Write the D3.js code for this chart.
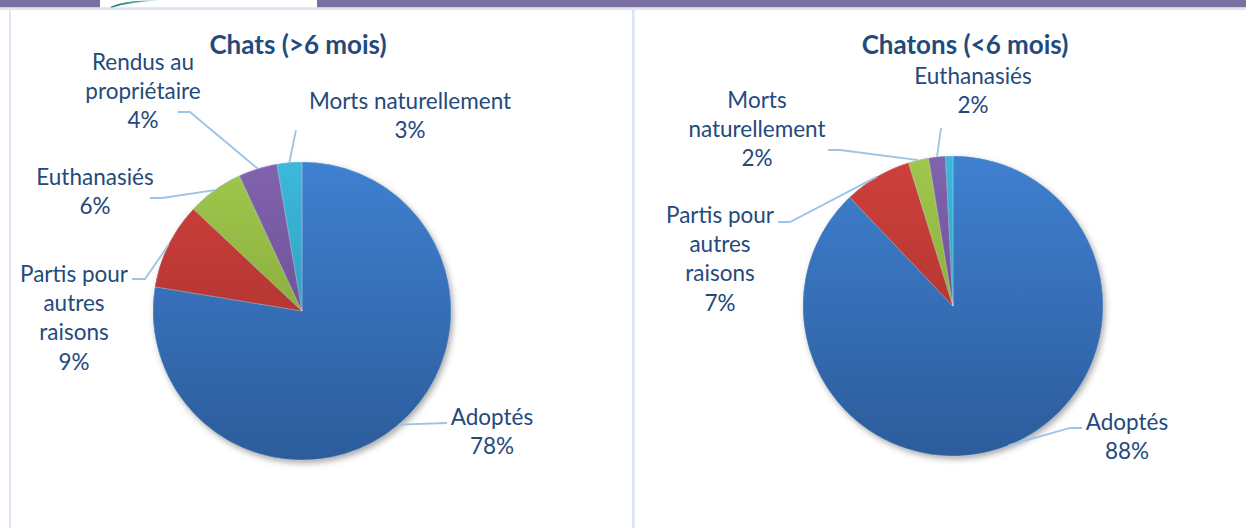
<!DOCTYPE html>
<html><head><meta charset="utf-8">
<script src="https://cdn.jsdelivr.net/npm/d3@7"></script>
<style>body{margin:0;background:#fff;overflow:hidden} svg{display:block}</style>
</head><body>
<svg id="c" width="1246" height="528"></svg>
<script>
// ---- data ----
const titles = ["Chats (>6 mois)", "Chatons (<6 mois)"];
const categoriesChats = ["Adoptés", "Partis pour autres raisons", "Euthanasiés", "Rendus au propriétaire", "Morts naturellement"];
const valuesChats = [77.6, 9.4, 6.1, 4.2, 2.7];
const labelLinesChats = [["Adoptés"], ["Partis pour", "autres", "raisons"], ["Euthanasiés"], ["Rendus au", "propriétaire"], ["Morts naturellement"]];
const categoriesChatons = ["Adoptés", "Partis pour autres raisons", "Morts naturellement", "Euthanasiés", "Rendus au propriétaire"];
const valuesChatons = [87.9, 7.3, 2.2, 1.8, 0.8];
const labelLinesChatons = [["Adoptés"], ["Partis pour", "autres", "raisons"], ["Morts", "naturellement"], ["Euthanasiés"], null];

// ---- styles / layout ----
const sliceColors = [["#3f80d0", "#2c5c9b"], ["#d0403c", "#9c2e2a"], ["#a0c84c", "#789735"], ["#8263ae", "#5c4482"], ["#3cb8db", "#2a8cab"]];
const textColor = "#24497c";
const titleColor = "#1f4b7d";
const leaderColor = "#9dc3e6";
const FONT = "Lato, 'Open Sans', sans-serif";
const lineH = 29.3;

const charts = [
  { cx: 302, cy: 311, r: 149, titleX: 298, titleY: 54, values: valuesChats, cats: categoriesChats, lines: labelLinesChats,
    labels: [
      { x: 492, y: 417, lead: [[447, 423]] },
      { x: 74, y: 274, lead: [[145, 279], [132, 279]] },
      { x: 95, y: 177, lead: [[162, 198], [150, 198]] },
      { x: 143, y: 62, lead: [[190, 112], [178, 112]] },
      { x: 410, y: 101, lead: [[296, 130]] }
    ] },
  { cx: 953, cy: 306, r: 150, titleX: 965, titleY: 54, values: valuesChatons, cats: categoriesChatons, lines: labelLinesChatons,
    labels: [
      { x: 1127, y: 422, lead: [[1070, 428], [1082, 428]] },
      { x: 720, y: 215, lead: [[790, 222], [778, 222]] },
      { x: 757, y: 100, lead: [[840, 150], [828, 150]] },
      { x: 973, y: 76, lead: [[941, 128]] },
      null
    ] }
];

const svg = d3.select("#c");
const defs = svg.append("defs");
const f = defs.append("filter").attr("id", "sh").attr("x", "-20%").attr("y", "-20%").attr("width", "140%").attr("height", "140%");
f.append("feDropShadow").attr("dx", 2).attr("dy", 3).attr("stdDeviation", 3).attr("flood-color", "#000").attr("flood-opacity", 0.35);

// page chrome
svg.append("rect").attr("x", 0).attr("y", 0).attr("width", 1246).attr("height", 7.5).attr("fill", "#7a70a2");
svg.append("rect").attr("x", 0).attr("y", 7.5).attr("width", 1246).attr("height", 2.5).attr("fill", "#dde7f3");
svg.append("rect").attr("x", 100).attr("y", 0).attr("width", 217).attr("height", 7.5).attr("fill", "#fff");
const lg = defs.append("linearGradient").attr("id", "logo").attr("x1", 0).attr("x2", 1);
lg.append("stop").attr("offset", 0).attr("stop-color", "#1b6e5e");
lg.append("stop").attr("offset", 0.6).attr("stop-color", "#4fb0a8");
lg.append("stop").attr("offset", 1).attr("stop-color", "#d8eef0");
svg.append("path").attr("d", "M110,7 Q125,0 150,0.5 L160,0.5 Q130,2 112,7.5 Z").attr("fill", "url(#logo)");
svg.append("rect").attr("x", 9).attr("y", 10).attr("width", 2).attr("height", 518).attr("fill", "#dde7f3");
svg.append("rect").attr("x", 632).attr("y", 10).attr("width", 2.5).attr("height", 518).attr("fill", "#dae5f4");

charts.forEach((c, ci) => {
  const g = svg.append("g");
  const pie = d3.pie().sort(null).value(d => d)(c.values);
  const arc = d3.arc().innerRadius(0).outerRadius(c.r);
  const edge = d3.arc().innerRadius(c.r).outerRadius(c.r);

  sliceColors.forEach((col, i) => {
    const gr = defs.append("linearGradient").attr("id", `g${ci}_${i}`)
      .attr("gradientUnits", "userSpaceOnUse").attr("x1", 0).attr("x2", 0).attr("y1", -c.r).attr("y2", c.r);
    gr.append("stop").attr("offset", 0).attr("stop-color", col[0]);
    gr.append("stop").attr("offset", 1).attr("stop-color", col[1]);
  });

  const pg = g.append("g").attr("transform", `translate(${c.cx},${c.cy})`);
  pg.append("circle").attr("r", c.r).attr("fill", "#2d5e9e").attr("filter", "url(#sh)");
  pg.selectAll("path.s").data(pie).join("path").attr("class", "s")
    .attr("d", arc).attr("fill", (d, i) => `url(#g${ci}_${i})`)
    .attr("stroke", "rgba(255,255,255,0.3)").attr("stroke-width", 0.8);

  // leader lines
  pie.forEach((d, i) => {
    const L = c.labels[i];
    if (!L || !c.lines[i]) return;
    const mid = { startAngle: (d.startAngle + d.endAngle) / 2, endAngle: (d.startAngle + d.endAngle) / 2 };
    const p = edge.centroid(mid);
    const pts = [[c.cx + p[0], c.cy + p[1]]].concat(L.lead);
    g.append("path").attr("d", d3.line()(pts)).attr("fill", "none")
      .attr("stroke", leaderColor).attr("stroke-width", 1.8);
  });

  // labels
  pie.forEach((d, i) => {
    const L = c.labels[i];
    if (!L || !c.lines[i]) return;
    const lines = c.lines[i].concat([Math.round(d.value) + "%"]);
    const t = g.append("text").attr("text-anchor", "middle").attr("fill", textColor)
      .style("font-family", FONT).style("font-size", "22.5px");
    lines.forEach((s, k) => {
      t.append("tspan").attr("x", L.x).attr("y", L.y + k * lineH).attr("dy", "0.35em").text(s);
    });
  });

  g.append("text").attr("x", c.titleX).attr("y", c.titleY).attr("text-anchor", "middle")
    .attr("fill", titleColor).style("font-family", FONT).style("font-weight", "bold").style("font-size", "26px")
    .text(titles[ci]);
});
</script>
</body></html>
